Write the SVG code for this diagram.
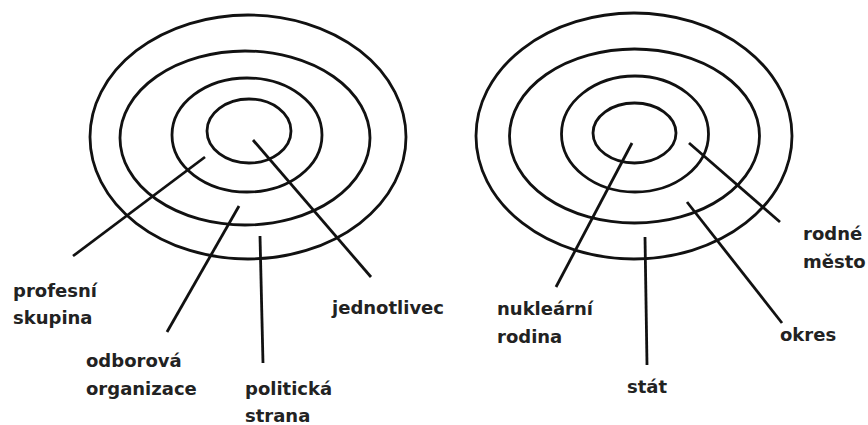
<svg xmlns="http://www.w3.org/2000/svg" width="868" height="425" viewBox="0 0 868 425">
<style>
.ring{fill:none;stroke:#111;stroke-width:2.8}
.con{stroke:#111;stroke-width:2.8;stroke-linecap:butt;fill:none}
.lbl{font-family:"DejaVu Sans",Verdana,sans-serif;font-weight:bold;font-size:18px;fill:#222}
</style>
<rect width="868" height="425" fill="#fff"/>
<g id="target-left">
<ellipse class="ring" cx="248" cy="137" rx="158" ry="122"/>
<ellipse class="ring" cx="245" cy="138" rx="125" ry="87"/>
<ellipse class="ring" cx="247" cy="135" rx="75" ry="57"/>
<ellipse class="ring" cx="249" cy="131" rx="42" ry="32"/>
</g>
<g id="target-right">
<ellipse class="ring" cx="634" cy="136" rx="158" ry="123"/>
<ellipse class="ring" cx="634.5" cy="136" rx="125" ry="87"/>
<ellipse class="ring" cx="635" cy="134" rx="73.5" ry="58"/>
<ellipse class="ring" cx="634.5" cy="133" rx="41.5" ry="30"/>
</g>
<g id="connectors">
<line class="con" x1="205" y1="157" x2="73" y2="256"/>
<line class="con" x1="239" y1="206" x2="167" y2="332"/>
<line class="con" x1="260" y1="236" x2="263" y2="363"/>
<line class="con" x1="253" y1="140" x2="371" y2="277"/>
<line class="con" x1="632" y1="143" x2="556" y2="287"/>
<line class="con" x1="645" y1="237" x2="647" y2="365"/>
<line class="con" x1="687" y1="202" x2="782" y2="323"/>
<line class="con" x1="689" y1="143" x2="780" y2="222"/>
</g>
<g id="profesni-skupina"><text class="lbl" x="13" y="297">profesní</text><text class="lbl" x="13" y="324">skupina</text></g>
<g id="odborova-organizace"><text class="lbl" x="86" y="367">odborová</text><text class="lbl" x="86" y="395">organizace</text></g>
<g id="politicka-strana"><text class="lbl" x="245" y="395">politická</text><text class="lbl" x="245" y="422">strana</text></g>
<g id="jednotlivec"><text class="lbl" x="332" y="314">jednotlivec</text></g>
<g id="nuklearni-rodina"><text class="lbl" x="497" y="315">nukleární</text><text class="lbl" x="497" y="343">rodina</text></g>
<g id="stat"><text class="lbl" x="627" y="393">stát</text></g>
<g id="okres"><text class="lbl" x="780" y="341">okres</text></g>
<g id="rodne-mesto"><text class="lbl" x="803" y="240">rodné</text><text class="lbl" x="803" y="268">město</text></g>
</svg>
